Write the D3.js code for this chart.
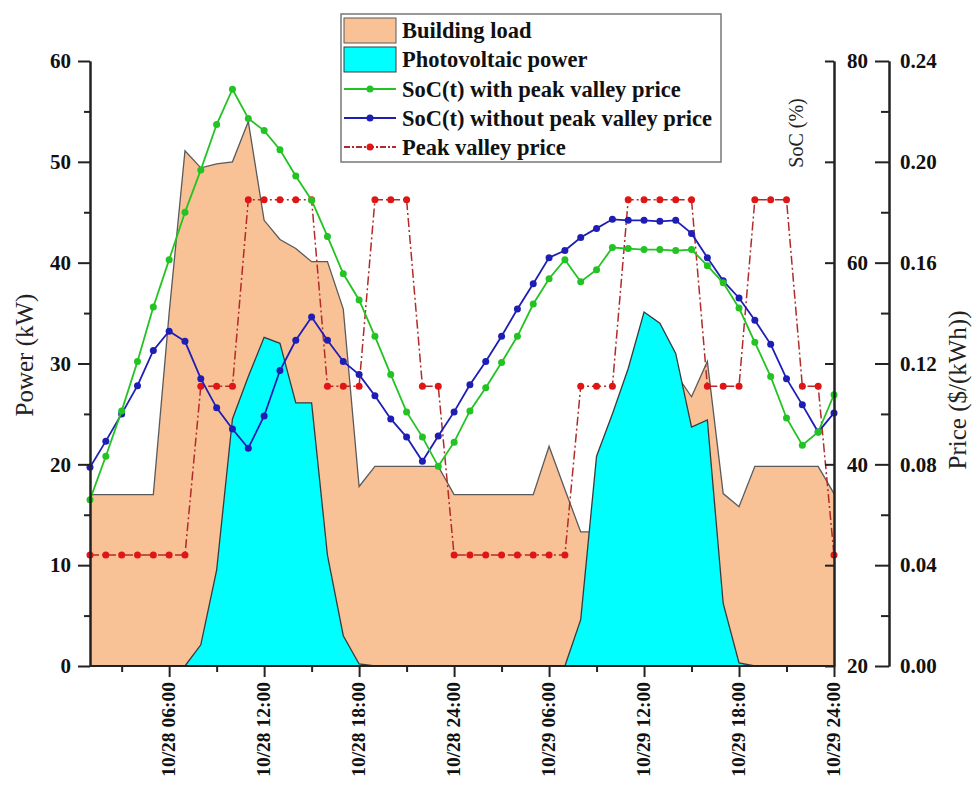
<!DOCTYPE html>
<html>
<head>
<meta charset="utf-8">
<script src="https://cdn.jsdelivr.net/npm/d3@7"></script>
<style>
  html, body { margin: 0; padding: 0; background: #fff; }
  svg { display: block; }
  text { font-family: "Liberation Serif", "Times New Roman", serif; }
</style>
</head>
<body>
<svg id="chart" width="974" height="793"></svg>
<script>
// ---------------- data ----------------
const hours = [1,2,3,4,5,6,7,8,9,10,11,12,13,14,15,16,17,18,19,20,21,22,23,24,
               25,26,27,28,29,30,31,32,33,34,35,36,37,38,39,40,41,42,43,44,45,46,47,48];

const buildingLoad = [17.0,17.0,17.0,17.0,17.0,35.0,51.1,49.4,49.8,50.0,54.0,44.2,42.3,41.4,40.1,40.1,35.4,17.8,
                      19.8,19.8,19.8,19.8,19.8,17.0,17.0,17.0,17.0,17.0,17.0,21.8,17.5,13.3,13.3,17.0,21.0,25.0,
                      28.0,29.0,26.7,30.2,17.1,15.8,19.8,19.8,19.8,19.8,19.8,17.1];

const pvPower = [0,0,0,0,0,0,0,2.1,9.5,24.5,28.7,32.6,32.0,26.1,26.1,11.0,3.0,0.2,
                 0,0,0,0,0,0,0,0,0,0,0,0,0,4.6,20.8,25.0,29.5,35.1,34.0,31.0,23.7,24.4,6.2,0.3,
                 0,0,0,0,0,0];

const socWithPeakValley = [36.5,40.8,45.3,50.2,55.6,60.3,65.0,69.2,73.7,77.2,74.3,73.1,71.2,68.6,66.2,62.6,58.9,56.3,
                           52.7,48.9,45.2,42.7,39.8,42.2,45.3,47.6,50.1,52.7,55.9,58.4,60.3,58.1,59.3,61.5,61.4,61.3,
                           61.3,61.2,61.3,59.7,58.0,55.5,52.1,48.7,44.6,41.9,43.2,46.9];

const socWithoutPeakValley = [39.7,42.3,45.0,47.8,51.3,53.2,52.2,48.5,45.6,43.5,41.6,44.8,49.3,52.3,54.6,52.3,50.2,48.9,
                              46.8,44.5,42.7,40.3,42.8,45.2,47.9,50.2,52.7,55.4,57.9,60.5,61.2,62.5,63.4,64.3,64.2,64.2,
                              64.1,64.2,62.9,60.5,58.2,56.5,54.3,51.9,48.5,45.9,43.2,45.1];

const peakValleyPrice = [0.044,0.044,0.044,0.044,0.044,0.044,0.044,0.111,0.111,0.111,0.185,0.185,0.185,0.185,0.185,
                         0.111,0.111,0.111,0.185,0.185,0.185,0.111,0.111,0.044,0.044,0.044,0.044,0.044,0.044,0.044,
                         0.044,0.111,0.111,0.111,0.185,0.185,0.185,0.185,0.185,0.111,0.111,0.111,0.185,0.185,0.185,
                         0.111,0.111,0.044];

const xTickHours = [6,12,18,24,30,36,42,48];
const xTickLabels = ["10/28 06:00","10/28 12:00","10/28 18:00","10/28 24:00",
                     "10/29 06:00","10/29 12:00","10/29 18:00","10/29 24:00"];
const xMinorHours = [3,9,15,21,27,33,39,45];
const powerTicks = [0,10,20,30,40,50,60];
const powerMinor = [5,15,25,35,45,55];
const socTicks = [20,40,60,80];
const socMinor = [30,50,70];
const priceTicks = [0,0.04,0.08,0.12,0.16,0.20,0.24];
const priceMinor = [0.02,0.06,0.10,0.14,0.18,0.22];

const legendLabels = ["Building load","Photovoltaic power","SoC(t) with peak valley price",
                      "SoC(t) without peak valley price","Peak valley price"];

// ---------------- styles ----------------
const C = {
  load: "#F9C196", loadLine: "#5a5a5a",
  pv: "#00FFFF", pvLine: "#3a3a3a",
  green: "#22C322", blue: "#1E1EB4",
  priceLine: "#B22A2A", priceDot: "#E01515",
  axis: "#222"
};

const svg = d3.select("#chart");

const x = d3.scaleLinear().domain([1, 48]).range([90, 834]);
const yP = d3.scaleLinear().domain([0, 60]).range([666, 61]);
const yS = d3.scaleLinear().domain([20, 80]).range([666, 61]);
const yPr = d3.scaleLinear().domain([0, 0.24]).range([666, 61]);

const plot = svg.append("g");

// building load area
const loadData = hours.map((h, i) => ({h, v: buildingLoad[i]}));
plot.append("path")
  .datum(loadData)
  .attr("fill", C.load)
  .attr("d", d3.area().x(d => x(d.h)).y0(yP(0)).y1(d => yP(d.v)));
plot.append("path")
  .datum(loadData)
  .attr("fill", "none").attr("stroke", C.loadLine).attr("stroke-width", 1.3)
  .attr("d", d3.line().x(d => x(d.h)).y(d => yP(d.v)));

// PV area
const pvData = hours.map((h, i) => ({h, v: pvPower[i]}));
plot.append("path")
  .datum(pvData)
  .attr("fill", C.pv)
  .attr("d", d3.area().x(d => x(d.h)).y0(yP(0)).y1(d => yP(d.v)));
plot.append("path")
  .datum(pvData)
  .attr("fill", "none").attr("stroke", C.pvLine).attr("stroke-width", 1.3)
  .attr("d", d3.line().x(d => x(d.h)).y(d => yP(d.v)));

// price line (dash-dot)
const priceData = hours.map((h, i) => ({h, v: peakValleyPrice[i]}));
plot.append("path")
  .datum(priceData)
  .attr("fill", "none").attr("stroke", C.priceLine).attr("stroke-width", 1.5)
  .attr("stroke-dasharray", "9,3,2,3")
  .attr("d", d3.line().x(d => x(d.h)).y(d => yPr(d.v)));
plot.append("g").selectAll("circle").data(priceData).join("circle")
  .attr("cx", d => x(d.h)).attr("cy", d => yPr(d.v)).attr("r", 3.5).attr("fill", C.priceDot);

// SoC without
const sWo = hours.map((h, i) => ({h, v: socWithoutPeakValley[i]}));
plot.append("path")
  .datum(sWo)
  .attr("fill", "none").attr("stroke", C.blue).attr("stroke-width", 1.8)
  .attr("d", d3.line().x(d => x(d.h)).y(d => yS(d.v)));
plot.append("g").selectAll("circle").data(sWo).join("circle")
  .attr("cx", d => x(d.h)).attr("cy", d => yS(d.v)).attr("r", 3.5).attr("fill", C.blue);

// SoC with
const sW = hours.map((h, i) => ({h, v: socWithPeakValley[i]}));
plot.append("path")
  .datum(sW)
  .attr("fill", "none").attr("stroke", C.green).attr("stroke-width", 1.8)
  .attr("d", d3.line().x(d => x(d.h)).y(d => yS(d.v)));
plot.append("g").selectAll("circle").data(sW).join("circle")
  .attr("cx", d => x(d.h)).attr("cy", d => yS(d.v)).attr("r", 3.5).attr("fill", C.green);

// ---------------- axes ----------------
function styleAxis(g, fontSize) {
  g.selectAll("path.domain").attr("stroke", C.axis).attr("stroke-width", 2);
  g.selectAll(".tick line").attr("stroke", C.axis).attr("stroke-width", 2);
  g.selectAll("text").attr("fill", "#111")
    .style("font-family", '"Liberation Serif", "Times New Roman", serif')
    .style("font-weight", "bold").style("font-size", fontSize + "px");
}

// left power axis
const gL = svg.append("g").attr("transform", "translate(90,0)")
  .call(d3.axisLeft(yP).tickValues(powerTicks).tickSize(12).tickPadding(7).tickSizeOuter(0));
styleAxis(gL, 21);
const gLm = svg.append("g").attr("transform", "translate(90,0)")
  .call(d3.axisLeft(yP).tickValues(powerMinor).tickSize(6).tickFormat("").tickSizeOuter(0));
styleAxis(gLm, 21);

// bottom axis
const gB = svg.append("g").attr("transform", "translate(0,666)")
  .call(d3.axisBottom(x).tickValues(xTickHours).tickSize(11).tickSizeOuter(0)
        .tickFormat((d, i) => xTickLabels[i]));
styleAxis(gB, 19.5);
gB.selectAll("text")
  .attr("transform", "rotate(-90)")
  .attr("x", -16).attr("y", -2).attr("dy", "0.36em")
  .style("text-anchor", "end");
const gBm = svg.append("g").attr("transform", "translate(0,666)")
  .call(d3.axisBottom(x).tickValues(xMinorHours).tickSize(6).tickFormat("").tickSizeOuter(0));
styleAxis(gBm, 16);
gB.select("path.domain").attr("d", `M${x(1)},0H${x(48)}`);
gBm.select("path.domain").attr("d", `M${x(1)},0H${x(48)}`);

// right SoC axis
const gS = svg.append("g").attr("transform", "translate(834,0)")
  .call(d3.axisRight(yS).tickValues(socTicks).tickSize(-9).tickPadding(13).tickSizeOuter(0));
styleAxis(gS, 21);
const gSm = svg.append("g").attr("transform", "translate(834,0)")
  .call(d3.axisRight(yS).tickValues(socMinor).tickSize(-9).tickFormat("").tickSizeOuter(0));
styleAxis(gSm, 21);

// price axis
const gPr = svg.append("g").attr("transform", "translate(889,0)")
  .call(d3.axisRight(yPr).tickValues(priceTicks).tickSize(-14).tickPadding(11).tickSizeOuter(0)
        .tickFormat(d3.format(".2f")));
styleAxis(gPr, 21);
const gPrm = svg.append("g").attr("transform", "translate(889,0)")
  .call(d3.axisRight(yPr).tickValues(priceMinor).tickSize(-8).tickFormat("").tickSizeOuter(0));
styleAxis(gPrm, 21);

// axis titles
svg.append("text").attr("transform", "translate(33,355) rotate(-90)")
  .attr("text-anchor", "middle").style("font-size", "25px").attr("fill", "#222").text("Power (kW)");
svg.append("text").attr("transform", "translate(803,133) rotate(-90)")
  .attr("text-anchor", "middle").style("font-size", "20px").attr("fill", "#222").text("SoC (%)");
svg.append("text").attr("transform", "translate(966,390) rotate(-90)")
  .attr("text-anchor", "middle").style("font-size", "25px").attr("fill", "#222").text("Price ($/(kWh))");

// ---------------- legend ----------------
const lg = svg.append("g");
lg.append("rect").attr("x", 341).attr("y", 14).attr("width", 380).attr("height", 148)
  .attr("fill", "#fff").attr("stroke", "#777").attr("stroke-width", 1.5);
const rowY = [30.5, 59.5, 89, 118, 147];
lg.append("rect").attr("x", 344).attr("y", 18).attr("width", 52).attr("height", 25)
  .attr("fill", C.load).attr("stroke", C.loadLine).attr("stroke-width", 1);
lg.append("rect").attr("x", 344).attr("y", 47).attr("width", 52).attr("height", 25)
  .attr("fill", C.pv).attr("stroke", C.pvLine).attr("stroke-width", 1);
const lineKeys = [
  {c: C.green, d: C.green, dash: null},
  {c: C.blue, d: C.blue, dash: null},
  {c: C.priceLine, d: C.priceDot, dash: "6,2,2,2"}
];
lineKeys.forEach((k, i) => {
  const y = rowY[i + 2];
  lg.append("line").attr("x1", 344).attr("x2", 396).attr("y1", y).attr("y2", y)
    .attr("stroke", k.c).attr("stroke-width", 1.8).attr("stroke-dasharray", k.dash);
  lg.append("circle").attr("cx", 370).attr("cy", y).attr("r", 3.5).attr("fill", k.d);
});
lg.selectAll("text.lbl").data(legendLabels).join("text").attr("class", "lbl")
  .attr("x", 402).attr("y", (d, i) => rowY[i]).attr("dy", "0.35em")
  .style("font-size", "22.5px").style("font-weight", "bold").attr("fill", "#111")
  .text(d => d);
</script>
</body>
</html>
